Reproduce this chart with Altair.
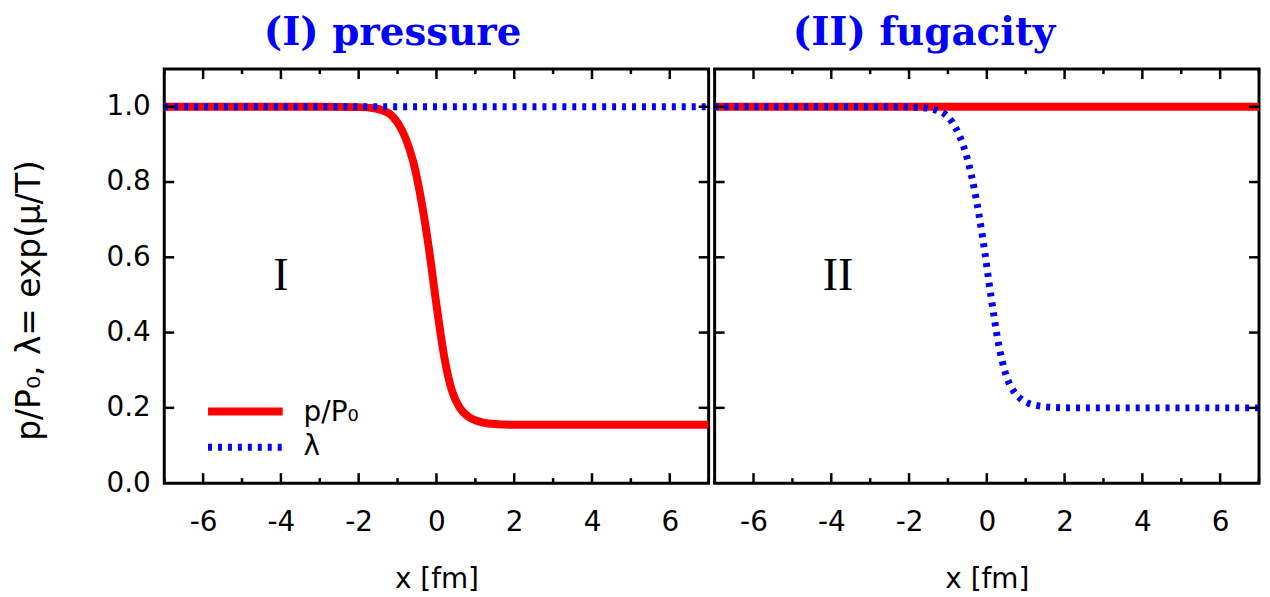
import altair as alt
import pandas as pd

# ---------------- data ----------------
X_DOMAIN = [-7, 7]
Y_DOMAIN = [0, 1.1]
x_major = [-6, -4, -2, 0, 2, 4, 6]
x_minor = [-7, -5, -3, -1, 1, 3, 5, 7]
y_major = [0.2, 0.4, 0.6, 0.8, 1.0]

# panel I : pressure
pI_x = [-7, -3, -2, -1.6, -1.4, -1.2, -1.0, -0.8, -0.6, -0.4, -0.2, 0.0, 0.2, 0.4,
        0.6, 0.8, 1.0, 1.2, 1.5, 2.0, 7]
pI_y = [1.0, 1.0, 0.999, 0.996, 0.991, 0.981, 0.958, 0.918, 0.855, 0.757, 0.628,
        0.474, 0.336, 0.245, 0.200, 0.178, 0.167, 0.161, 0.157, 0.155, 0.155]
lamI_x = [-7, 7]
lamI_y = [1.0, 1.0]

# panel II : fugacity
pII_x = [-7, 7]
pII_y = [1.0, 1.0]
lamII_x = [-7, -2.9, -1.9, -1.5, -1.3, -1.1, -0.9, -0.7, -0.5, -0.3, -0.1, 0.1, 0.3,
           0.5, 0.7, 0.9, 1.1, 1.3, 1.6, 2.1, 7]
lamII_y = [1.0, 1.0, 0.999, 0.996, 0.991, 0.982, 0.960, 0.922, 0.862, 0.770, 0.648,
           0.502, 0.371, 0.285, 0.243, 0.222, 0.211, 0.206, 0.202, 0.200, 0.200]

panel_titles = ["(I) pressure", "(II) fugacity"]
roman_labels = ["I", "II"]
roman_x = [-4.0, -3.83]
roman_y = [0.55, 0.55]
legend_labels = ["p/P\u2080", "\u03bb"]

# ---------------- style ----------------
W, H = 547, 416
RED = "#ff0000"
BLUE = "#0000ff"
SANS = "DejaVu Sans"
FS = 28


def xenc(field="x"):
    return alt.X(
        f"{field}:Q",
        scale=alt.Scale(domain=X_DOMAIN, nice=False, zero=False),
        axis=alt.Axis(values=x_major, labelExpr="toString(datum.value)",
                      domain=False, ticks=False, grid=False,
                      labelFont=SANS, labelFontSize=FS, labelColor="black",
                      labelPadding=26, title="x [fm]", titleFont=SANS,
                      titleFontSize=FS, titleFontWeight="normal", titleColor="black",
                      titlePadding=29),
    )


def yenc(show, field="y"):
    if show:
        ax = alt.Axis(values=[0, 0.2, 0.4, 0.6, 0.8, 1.0], format=".1f",
                      domain=False, ticks=False, grid=False,
                      labelFont=SANS, labelFontSize=FS, labelColor="black",
                      labelPadding=14,
                      title="p/P\u2080,  \u03bb= exp(\u03bc/T)", titleFont=SANS,
                      titleFontSize=33, titleFontWeight="normal", titleColor="black",
                      titlePadding=60, titleY=232)
    else:
        ax = None
    return alt.Y(f"{field}:Q", scale=alt.Scale(domain=Y_DOMAIN, nice=False, zero=False),
                 axis=ax)


def panel(i, p_x, p_y, l_x, l_y, show_y, with_legend, title_dx):
    red = alt.Chart(pd.DataFrame({"x": p_x, "y": p_y})).mark_line(
        color=RED, strokeWidth=8, clip=True, interpolate="monotone"
    ).encode(x=xenc(), y=yenc(show_y))
    blue = alt.Chart(pd.DataFrame({"x": l_x, "y": l_y})).mark_line(
        color=BLUE, strokeWidth=7, strokeDash=[4, 6], clip=True, interpolate="monotone"
    ).encode(x=xenc(), y=yenc(show_y))

    maj = pd.DataFrame({"x": x_major})
    mnr = pd.DataFrame({"x": x_minor})
    yt = pd.DataFrame({"y": y_major})
    tk = dict(color="black", strokeWidth=2.5)
    t_bot = alt.Chart(maj).mark_rule(**tk).encode(x=xenc(), y=alt.value(H), y2=alt.value(H - 10))
    t_top = alt.Chart(maj).mark_rule(**tk).encode(x=xenc(), y=alt.value(0), y2=alt.value(10))
    m_bot = alt.Chart(mnr).mark_rule(**tk).encode(x=xenc(), y=alt.value(H), y2=alt.value(H - 5))
    m_top = alt.Chart(mnr).mark_rule(**tk).encode(x=xenc(), y=alt.value(0), y2=alt.value(5))
    t_left = alt.Chart(yt).mark_rule(**tk).encode(y=yenc(show_y), x=alt.value(0), x2=alt.value(10))
    t_right = alt.Chart(yt).mark_rule(**tk).encode(y=yenc(show_y), x=alt.value(W), x2=alt.value(W - 10))

    roman = alt.Chart(pd.DataFrame({"x": [roman_x[i]], "y": [roman_y[i]],
                                    "t": [roman_labels[i]]})).mark_text(
        font="Liberation Serif", fontSize=46, color="black", baseline="middle"
    ).encode(x=xenc(), y=yenc(show_y), text="t:N")

    layers = [red, blue, t_bot, t_top, m_bot, m_top, t_left, t_right, roman]

    if with_legend:
        ldf = pd.DataFrame({"t": legend_labels})
        lr = alt.Chart(ldf.iloc[[0]]).mark_rule(color=RED, strokeWidth=8).encode(
            x=alt.value(44), x2=alt.value(119), y=alt.value(344))
        lb = alt.Chart(ldf.iloc[[1]]).mark_rule(color=BLUE, strokeWidth=7, strokeDash=[4, 6]).encode(
            x=alt.value(44), x2=alt.value(119), y=alt.value(380))
        lt0 = alt.Chart(ldf.iloc[[0]]).mark_text(
            font=SANS, fontSize=FS, align="left", baseline="middle", color="black"
        ).encode(x=alt.value(140), y=alt.value(346), text="t:N")
        lt1 = alt.Chart(ldf.iloc[[1]]).mark_text(
            font=SANS, fontSize=FS, align="left", baseline="middle", color="black"
        ).encode(x=alt.value(140), y=alt.value(380), text="t:N")
        layers += [lr, lb, lt0, lt1]

    return alt.layer(*layers).properties(
        width=W, height=H,
        title=alt.TitleParams(panel_titles[i], font="DejaVu Serif", fontWeight="bold",
                              fontSize=39, color=BLUE, anchor="middle", dx=title_dx,
                              baseline="alphabetic", offset=-16),
    )


left = panel(0, pI_x, pI_y, lamI_x, lamI_y, True, True, -44)
right = panel(1, pII_x, pII_y, lamII_x, lamII_y, False, False, -63)

chart = alt.hconcat(left, right, spacing=0).properties(
    padding={"left": 3, "top": 3, "right": 0, "bottom": 0}
).configure_view(stroke="black", strokeWidth=3).configure_concat(spacing=0)

chart.save("out.html", embed_options={"renderer": "svg", "actions": False})
